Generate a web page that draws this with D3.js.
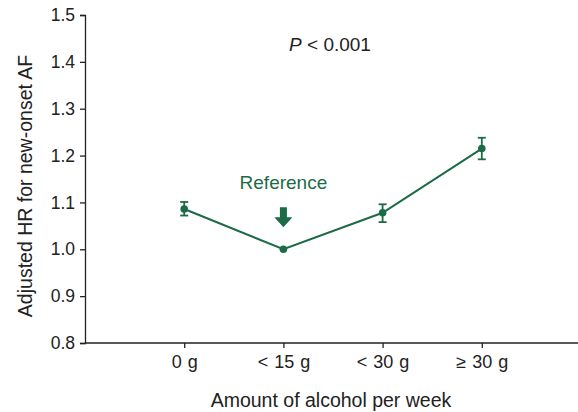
<!DOCTYPE html>
<html>
<head>
<meta charset="utf-8">
<script src="https://cdn.jsdelivr.net/npm/d3@7"></script>
<style>
  body { margin: 0; background: #fff; }
  text { font-family: "Liberation Sans", Arial, sans-serif; }
</style>
</head>
<body>
<div id="graph"></div>
<script>
var categories = ["0 g", "< 15 g", "< 30 g", "\u2265 30 g"];
var hrValues = [1.086, 1.0, 1.078, 1.215];
var ciLower = [1.072, 1.0, 1.058, 1.192];
var ciUpper = [1.101, 1.0, 1.096, 1.238];
var yTicks = [0.8, 0.9, 1.0, 1.1, 1.2, 1.3, 1.4, 1.5];

var width = 578, height = 412;
var green = "#1c6b47";
var ink = "#222";
var margin = {top: 15, left: 85, bottom: 69, right: 0};

var svg = d3.select("#graph").append("svg")
  .attr("width", width)
  .attr("height", height);

var x = d3.scalePoint()
  .domain(categories)
  .range([margin.left, 581])
  .padding(1);

var y = d3.scaleLinear()
  .domain([0.8, 1.5])
  .range([height - margin.bottom, margin.top]);

// axes
svg.append("g")
  .attr("transform", "translate(" + margin.left + ",0)")
  .call(d3.axisLeft(y).tickValues(yTicks).tickFormat(d3.format(".1f")).tickSize(5).tickPadding(5))
  .selectAll(".tick text").attr("font-size", "17.5px");

var xAxis = svg.append("g")
  .attr("transform", "translate(0," + y(0.8) + ")")
  .call(d3.axisBottom(x).tickSize(5).tickPadding(7).tickSizeOuter(0));

xAxis.select(".domain").attr("d", "M" + margin.left + ",0H" + width);
xAxis.selectAll(".tick text").attr("font-size", "18px").style("word-spacing", "1px");

svg.selectAll(".domain, .tick line").attr("stroke", ink).attr("stroke-width", 1.3);
svg.selectAll(".tick text").attr("fill", ink);

// axis titles
svg.append("text")
  .attr("transform", "translate(32,186) rotate(-90)")
  .attr("text-anchor", "middle")
  .attr("font-size", "19.5px")
  .attr("fill", ink)
  .text("Adjusted HR for new-onset AF");

svg.append("text")
  .attr("x", 331)
  .attr("y", 407)
  .attr("text-anchor", "middle")
  .attr("font-size", "19.5px")
  .attr("fill", ink)
  .text("Amount of alcohol per week");

var ptext = svg.append("text")
  .attr("x", 330)
  .attr("y", 51)
  .attr("text-anchor", "middle")
  .attr("font-size", "19px")
  .attr("fill", ink);
ptext.append("tspan").attr("font-style", "italic").text("P");
ptext.append("tspan").text(" < 0.001");

// line
var line = d3.line()
  .x(function(d, i) { return x(categories[i]); })
  .y(function(d) { return y(d); });

svg.append("path")
  .datum(hrValues)
  .attr("d", line)
  .attr("fill", "none")
  .attr("stroke", green)
  .attr("stroke-width", 2);

// error bars
categories.forEach(function(c, i) {
  if (ciUpper[i] - ciLower[i] <= 0) return;
  var cx = x(c);
  var g = svg.append("g").attr("stroke", green).attr("stroke-width", 1.8);
  g.append("line").attr("x1", cx).attr("x2", cx).attr("y1", y(ciLower[i])).attr("y2", y(ciUpper[i]));
  g.append("line").attr("x1", cx - 4).attr("x2", cx + 4).attr("y1", y(ciLower[i])).attr("y2", y(ciLower[i]));
  g.append("line").attr("x1", cx - 4).attr("x2", cx + 4).attr("y1", y(ciUpper[i])).attr("y2", y(ciUpper[i]));
});

svg.selectAll(".pt")
  .data(hrValues)
  .enter().append("circle")
  .attr("class", "pt")
  .attr("cx", function(d, i) { return x(categories[i]); })
  .attr("cy", function(d) { return y(d); })
  .attr("r", 3.8)
  .attr("fill", green);

// reference annotation
var rx = x(categories[1]);
var ry = y(hrValues[1]);
svg.append("text")
  .attr("x", rx)
  .attr("y", ry - 60)
  .attr("text-anchor", "middle")
  .attr("font-size", "19px")
  .attr("fill", green)
  .text("Reference");

var top0 = ry - 42, mid = ry - 32, tip = ry - 22;
svg.append("path")
  .attr("d", "M" + (rx - 3.5) + "," + top0 + "H" + (rx + 3.5) + "V" + mid + "H" + (rx + 9) +
    "L" + rx + "," + tip + "L" + (rx - 9) + "," + mid + "H" + (rx - 3.5) + "Z")
  .attr("fill", green);
</script>
</body>
</html>
